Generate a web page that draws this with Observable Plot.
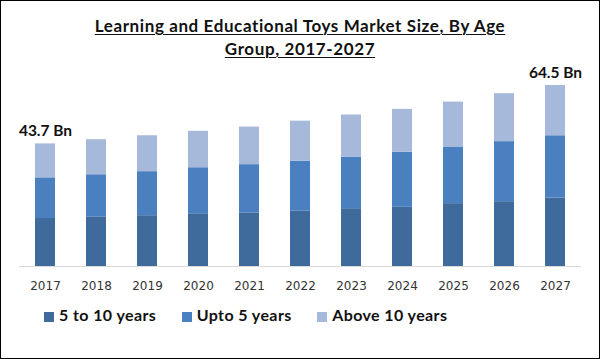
<!DOCTYPE html>
<html>
<head>
<meta charset="utf-8">
<script src="https://cdn.jsdelivr.net/npm/d3@7"></script>
<script src="https://cdn.jsdelivr.net/npm/@observablehq/plot@0.6"></script>
<style>
  html, body { margin: 0; padding: 0; background: #fff; }
  #frame { position: relative; width: 600px; height: 359px; overflow: hidden; background: #fff; }
  #border { position: absolute; left: 0; top: 0; width: 600px; height: 359px; box-sizing: border-box; border: 1px solid #000; pointer-events: none; }
  #title { position: absolute; left: 0; top: 13.6px; width: 600px; text-align: center; font-family: Lato, sans-serif; font-weight: bold; font-size: 17px; letter-spacing: 0.6px; line-height: 23.3px; color: #111; text-decoration: underline; text-underline-offset: 2px; text-decoration-thickness: 1px; }
  #chart { position: absolute; left: 0; top: 0; }
  #legend { position: absolute; left: 44px; top: 304.9px; display: flex; align-items: flex-start; font-family: Lato, sans-serif; font-weight: bold; font-size: 16px; letter-spacing: 0.4px; line-height: 19.2px; color: #111; }
  .item { display: flex; align-items: flex-start; margin-right: 25.5px; }
  .sw { width: 10px; height: 10px; margin-top: 7.4px; margin-right: 5px; }
</style>
</head>
<body>
<div id="frame">
  <div id="chart"></div>
  <div id="title">Learning and Educational Toys Market Size, By Age<br>Group, 2017-2027</div>
  <div id="legend"></div>
  <div id="border"></div>
</div>
<script>
const years = [2017, 2018, 2019, 2020, 2021, 2022, 2023, 2024, 2025, 2026, 2027];
const age5to10 = [17.1, 17.7, 18.1, 18.8, 19.0, 19.7, 20.6, 21.1, 22.4, 23.1, 24.4];
const upto5 = [14.5, 15.0, 15.7, 16.4, 17.3, 17.8, 18.4, 19.6, 20.2, 21.4, 22.2];
const above10 = [12.1, 12.5, 12.8, 13.0, 13.4, 14.3, 15.0, 15.3, 16.0, 17.1, 17.9];
const seriesNames = ["5 to 10 years", "Upto 5 years", "Above 10 years"];
const seriesColors = ["#3f6a9c", "#4b80c0", "#a7b9da"];
const labelYears = [2017, 2027];
const labelTexts = ["43.7 Bn", "64.5 Bn"];

const seriesValues = [age5to10, upto5, above10];
const rows = [];
years.forEach((yr, i) => {
  seriesNames.forEach((s, j) => rows.push({ year: yr, series: s, value: seriesValues[j][i] }));
});
const labels = labelYears.map((yr, k) => {
  const i = years.indexOf(yr);
  return { year: yr, total: age5to10[i] + upto5[i] + above10[i], text: labelTexts[k] };
});

const chart = Plot.plot({
  width: 600,
  height: 359,
  marginTop: 69.6,
  marginBottom: 93,
  marginLeft: 19,
  marginRight: 19,
  style: { background: "transparent" },
  x: { type: "band", domain: years, paddingInner: 0.6, paddingOuter: 0.3, label: null },
  y: { domain: [0, 70], axis: null },
  color: { domain: seriesNames, range: seriesColors },
  marks: [
    Plot.barY(rows, { x: "year", y: "value", fill: "series" }),
    Plot.ruleY([0], { stroke: "#d9d9d9", strokeWidth: 1 }),
    Plot.axisX({ tickSize: 0, tickPadding: 14.5, tickFormat: d => String(d), fontSize: 12, fontFamily: "DejaVu Sans", color: "#333", label: null }),
    Plot.text(labels, { x: "year", y: "total", text: "text", dy: -8, lineAnchor: "bottom", fontWeight: "bold", fontSize: 15.5, fontFamily: "Lato", fill: "#111" })
  ]
});
document.getElementById("chart").appendChild(chart);

const legend = document.getElementById("legend");
seriesNames.forEach((s, j) => {
  const item = document.createElement("div");
  item.className = "item";
  const sw = document.createElement("div");
  sw.className = "sw";
  sw.style.background = seriesColors[j];
  const t = document.createElement("span");
  t.textContent = s;
  item.appendChild(sw);
  item.appendChild(t);
  legend.appendChild(item);
});
</script>
</body>
</html>
